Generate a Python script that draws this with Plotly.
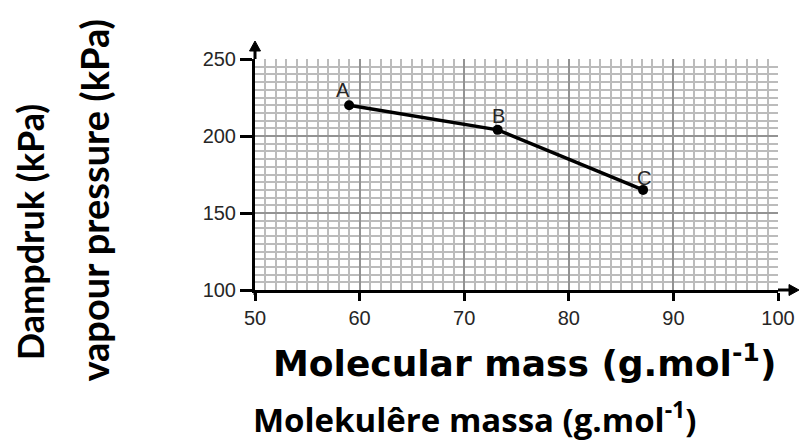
import plotly.graph_objects as go

# Data
labels = ["A", "B", "C"]
molecular_mass = [59.0, 73.2, 87.1]
vapour_pressure = [220, 204, 165]

x_ticks = [50, 60, 70, 80, 90, 100]
y_ticks = [100, 150, 200, 250]

OFF = 8  # page body margin
W, H = 807 - OFF, 442 - OFF
L, T = 255 - OFF, 59 - OFF
PW, PH = 528, 231
R, B = W - L - PW, H - T - PH


def px(xp):
    return (xp - OFF - L) / PW


def py(yp):
    return (T + PH - (yp - OFF)) / PH


fig = go.Figure()
fig.add_trace(go.Scatter(
    x=molecular_mass, y=vapour_pressure, mode="lines+markers",
    line=dict(color="black", width=3.5),
    marker=dict(color="black", size=10),
    showlegend=False, hoverinfo="skip", cliponaxis=False,
))

tickfont = dict(family="Liberation Sans, Arial, sans-serif", size=20, color="#262626")

fig.update_layout(
    width=W, height=H,
    margin=dict(l=L, r=R, t=T, b=B, pad=0),
    paper_bgcolor="white", plot_bgcolor="white",
    xaxis=dict(
        range=[50, 100], tickvals=x_ticks, ticktext=[str(v) for v in x_ticks],
        showgrid=True, gridcolor="#939393", gridwidth=2,
        minor=dict(dtick=1, showgrid=True, gridcolor="#bcbcbc", gridwidth=1.5, ticks=""),
        showline=True, linecolor="black", linewidth=3,
        ticks="outside", ticklen=8, tickwidth=2.5, tickcolor="black",
        tickfont=tickfont, zeroline=False, fixedrange=True,
    ),
    yaxis=dict(
        range=[100, 250], tickvals=y_ticks, ticktext=[str(v) for v in y_ticks],
        showgrid=True, gridcolor="#939393", gridwidth=2,
        minor=dict(dtick=5, showgrid=True, gridcolor="#bcbcbc", gridwidth=1.5, ticks=""),
        showline=True, linecolor="black", linewidth=3,
        ticks="outside", ticklen=12, tickwidth=2.5, tickcolor="black",
        tickfont=tickfont, zeroline=False, fixedrange=True,
    ),
)

# axis arrow extensions
shape_common = dict(xref="paper", yref="paper", xsizemode="pixel", ysizemode="pixel",
                    layer="above")
fig.add_shape(type="path", xanchor=0, yanchor=1, path="M 0 0 L 0 12",
              line=dict(color="black", width=3), **shape_common)
fig.add_shape(type="path", xanchor=0, yanchor=1, path="M -5.5 8 L 5.5 8 L 0 18 Z",
              line=dict(color="black", width=1), fillcolor="black", **shape_common)
fig.add_shape(type="path", xanchor=0, yanchor=0, path="M 0 0 L 0 -5",
              line=dict(color="black", width=3), **shape_common)
fig.add_shape(type="path", xanchor=1, yanchor=0, path="M 0 0 L 14 0",
              line=dict(color="black", width=3), **shape_common)
fig.add_shape(type="path", xanchor=1, yanchor=0, path="M 11 -5.5 L 11 5.5 L 21 0 Z",
              line=dict(color="black", width=1), fillcolor="black", **shape_common)

# point labels
shifts = [(-6, 15), (1, 14), (1, 12)]
for lab, xv, yv, (dx, dy) in zip(labels, molecular_mass, vapour_pressure, shifts):
    fig.add_annotation(x=xv, y=yv, text=lab, showarrow=False, xshift=dx, yshift=dy,
                       xanchor="center", yanchor="middle",
                       font=dict(family="Liberation Sans, Arial, sans-serif", size=20, color="#262626"))

common = dict(xref="paper", yref="paper", showarrow=False, xanchor="center", yanchor="middle")
fig.add_annotation(x=px(527), y=py(361), text="Molecular mass (g.mol<sup>-1</sup>)",
                   font=dict(family="DejaVu Sans", size=36, color="black", weight="bold"), **common)
fig.add_annotation(x=px(477), y=py(417), text="Molekulêre massa (g.mol<sup>-1</sup>)",
                   font=dict(family="Open Sans", size=33, color="black", weight="bold"), **common)
fig.add_annotation(x=px(28), y=py(232), textangle=-90, text="Dampdruk (kPa)",
                   font=dict(family="Lato", size=36, color="black", weight="bold"), **common)
fig.add_annotation(x=px(92), y=py(200), textangle=-90, text="vapour pressure (kPa)",
                   font=dict(family="Lato", size=38, color="black", weight="bold"), **common)

fig.write_html("out.html")
